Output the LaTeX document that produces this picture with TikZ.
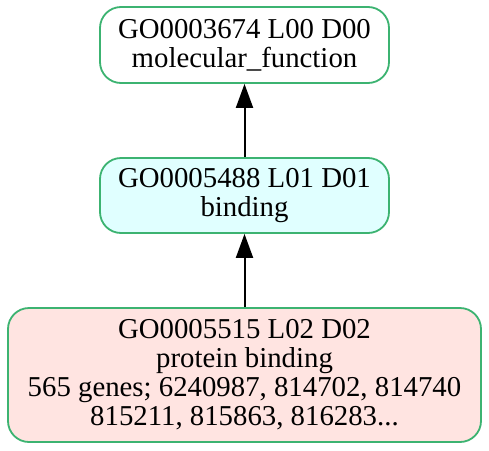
\documentclass[tikz,border=0pt]{standalone}
\usepackage{fontspec}
\setmainfont{Liberation Serif}
\usetikzlibrary{arrows.meta}
\definecolor{goborder}{HTML}{3CB371}
\definecolor{gocyan}{HTML}{E0FFFF}
\definecolor{gorose}{HTML}{FFE4E1}

\begin{document}
\begin{tikzpicture}[x=1pt,y=-1pt,
	goterm/.style={draw=goborder, line width=1.8pt, rounded corners=21pt, align=center,
		inner sep=0pt, font=\fontsize{28.8}{29}\selectfont},
	isa/.style={-{Triangle[length=24pt,width=17pt]}, line width=2pt}]
	\useasboundingbox (0,0) rectangle (489,450);
	\def\mid{244.5}

	% GO terms, top to bottom
	\node[goterm, fill=white, minimum width=289pt, minimum height=76pt] (mf) at (\mid,45)
		{GO0003674 L00 D00\\molecular\_function};
	\node[goterm, fill=gocyan, minimum width=289pt, minimum height=75pt] (bind) at (\mid,195.5)
		{GO0005488 L01 D01\\binding};
	\node[goterm, fill=gorose, minimum width=473pt, minimum height=134pt] (prot) at (\mid,375)
		{GO0005515 L02 D02\\protein binding\\565 genes; 6240987, 814702, 814740\\815211, 815863, 816283...};

	% is_a edges
	\draw[isa] (bind) -- (mf);
	\draw[isa] (prot) -- (bind);
\end{tikzpicture}
\end{document}
